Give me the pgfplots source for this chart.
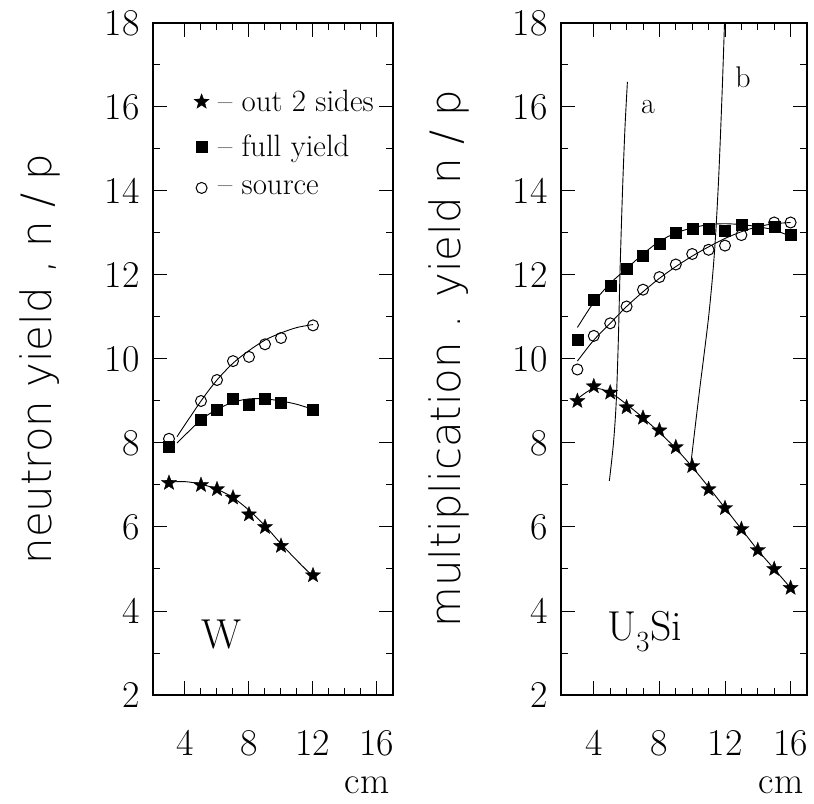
\documentclass[border=0pt]{standalone}
\usepackage{fontspec}
\newfontfamily\labfont{DejaVu Sans ExtraLight}
\usepackage{pgfplots}
\pgfplotsset{compat=1.18}
\pgfdeclareplotmark{fstar}{%
  \pgfpathmoveto{\pgfpointpolar{90}{\pgfplotmarksize}}%
  \pgfpathlineto{\pgfpointpolar{126}{0.42\pgfplotmarksize}}%
  \pgfpathlineto{\pgfpointpolar{162}{\pgfplotmarksize}}%
  \pgfpathlineto{\pgfpointpolar{198}{0.42\pgfplotmarksize}}%
  \pgfpathlineto{\pgfpointpolar{234}{\pgfplotmarksize}}%
  \pgfpathlineto{\pgfpointpolar{270}{0.42\pgfplotmarksize}}%
  \pgfpathlineto{\pgfpointpolar{306}{\pgfplotmarksize}}%
  \pgfpathlineto{\pgfpointpolar{342}{0.42\pgfplotmarksize}}%
  \pgfpathlineto{\pgfpointpolar{18}{\pgfplotmarksize}}%
  \pgfpathlineto{\pgfpointpolar{54}{0.42\pgfplotmarksize}}%
  \pgfpathclose\pgfusepathqfillstroke}
\newcommand{\lfs}{\fontsize{31}{33}\selectfont}
\pgfplotsset{
  panel/.style={
    scale only axis, height=672bp,
    xmin=2, xmax=17, ymin=2, ymax=18,
    xtick={4,8,12,16}, minor x tick num=3,
    ytick={2,4,...,18}, minor y tick num=1,
    tick align=inside,
    /pgf/number format/assume math mode=true,
    major tick length=14bp, minor tick length=7bp,
    axis line style={line width=1.4bp},
    every tick/.style={black, line width=1bp},
    tick label style={font=\fontsize{38}{40}\selectfont},
    yticklabel style={xshift=-10bp},
    xticklabel style={anchor=base, yshift=-60bp},
    xlabel={cm},
    xlabel style={at={(axis description cs:1,-0.146)}, anchor=base east, font=\fontsize{38}{40}\selectfont},
    ylabel style={anchor=center, font=\labfont\fontsize{42}{46}\selectfont},
  },
  smk/.style={only marks, mark=fstar, mark size=8bp, black, mark options={line width=0.3bp}},
  sqk/.style={only marks, mark=square*, mark size=5.5bp, black},
  cik/.style={only marks, mark=o, mark size=5.5bp, black, mark options={fill=white, line width=1bp}},
  fit/.style={black, line width=0.9bp, smooth, no marks},
}
\begin{document}
\begin{tikzpicture}
\begin{axis}[panel, width=240bp, at={(0,0)},
  ylabel={neutron yield , n / p},
  ylabel style={at={(axis description cs:-0.47,0.5)}},
  legend image code/.code={\draw[#1] plot coordinates {(0bp,0bp)};},
  legend style={at={(axis cs:4.55,16.45)}, anchor=north west, draw=none, fill=none,
    font=\lfs, row sep=18bp, column sep=7bp, inner sep=0pt},
  legend cell align=left]
\addplot[fit, forget plot] coordinates {(3,7.07) (4,7.08) (5,7.02) (6,6.9) (7,6.7) (8,6.4) (9,6.03) (10,5.6) (11,5.2) (12,4.82)};
\addplot[fit, forget plot] coordinates {(3.5,8.0) (5,8.55) (6,8.8) (7,8.97) (8,9.05) (9,9.05) (10,9.0) (11,8.92) (12,8.8)};
\addplot[fit, forget plot] coordinates {(3.5,8.15) (5,9.0) (6,9.5) (7,9.9) (8,10.2) (9,10.45) (10,10.62) (11,10.75) (12,10.82)};
\addplot[smk] coordinates {(3,7.05) (5,7.0) (6,6.9) (7,6.7) (8,6.3) (9,6.0) (10,5.55) (12,4.85)};
\addlegendentry{\lfs -- out 2 sides}
\addplot[sqk] coordinates {(3,7.9) (5,8.55) (6,8.8) (7,9.05) (8,8.9) (9,9.05) (10,8.95) (12,8.8)};
\addlegendentry{\lfs -- full yield}
\addplot[cik] coordinates {(3,8.1) (5,9.0) (6,9.5) (7,9.95) (8,10.05) (9,10.35) (10,10.5) (12,10.8)};
\addlegendentry{\lfs -- source}
\node[font=\fontsize{42}{44}\selectfont] at (axis cs:6.3,3.45) {W};
\end{axis}
\begin{axis}[panel, width=246bp, at={(408bp,0)},
  ylabel={multiplication . yield n / p},
  ylabel style={at={(axis description cs:-0.455,0.5)}}]
\addplot[fit] coordinates {(3,9.05) (4,9.3) (5,9.2) (6,8.92) (7,8.6) (8,8.25) (9,7.87) (10,7.43) (11,6.95) (12,6.45) (13,5.95) (14,5.45) (15,5.0) (16,4.55)};
\addplot[fit] coordinates {(3,10.75) (4,11.35) (5,11.8) (6,12.15) (7,12.5) (8,12.8) (9,13.0) (10,13.12) (11,13.2) (12,13.22) (13,13.2) (14,13.15) (15,13.07) (16,12.92)};
\addplot[fit] coordinates {(3,9.95) (4,10.45) (5,10.85) (6,11.25) (7,11.6) (8,11.92) (9,12.2) (10,12.45) (11,12.67) (12,12.87) (13,13.03) (14,13.15) (15,13.22) (16,13.25)};
\addplot[fit] coordinates {(4.95,7.1) (5.2,8.0) (5.37,9.0) (5.5,10.5) (5.6,12.1) (5.75,14) (5.9,15.5) (6.05,16.6)};
\addplot[fit] coordinates {(9.9,7.45) (10.4,9.1) (11.0,11.0) (11.35,12.5) (11.6,14.2) (11.82,16.3) (11.97,18)};
\addplot[smk] coordinates {(3,9.0) (4,9.35) (5,9.2) (6,8.85) (7,8.6) (8,8.3) (9,7.9) (10,7.45) (11,6.9) (12,6.45) (13,5.95) (14,5.45) (15,5.0) (16,4.55)};
\addplot[sqk] coordinates {(3,10.45) (4,11.4) (5,11.75) (6,12.15) (7,12.45) (8,12.75) (9,13.0) (10,13.1) (11,13.1) (12,13.05) (13,13.2) (14,13.1) (15,13.15) (16,12.95)};
\addplot[cik] coordinates {(3,9.75) (4,10.55) (5,10.85) (6,11.25) (7,11.65) (8,11.95) (9,12.25) (10,12.5) (11,12.6) (12,12.7) (13,12.95) (14,13.1) (15,13.25) (16,13.25)};
\node[font=\fontsize{30}{32}\selectfont] at (axis cs:7.3,16.0) {a};
\node[font=\fontsize{30}{32}\selectfont] at (axis cs:13.1,16.7) {b};
\node[font=\fontsize{42}{44}\selectfont] at (axis cs:7.1,3.5) {U\textsubscript{3}Si};
\end{axis}
\path (-153bp,-109bp) rectangle (661bp,695bp);
\end{tikzpicture}
\end{document}
